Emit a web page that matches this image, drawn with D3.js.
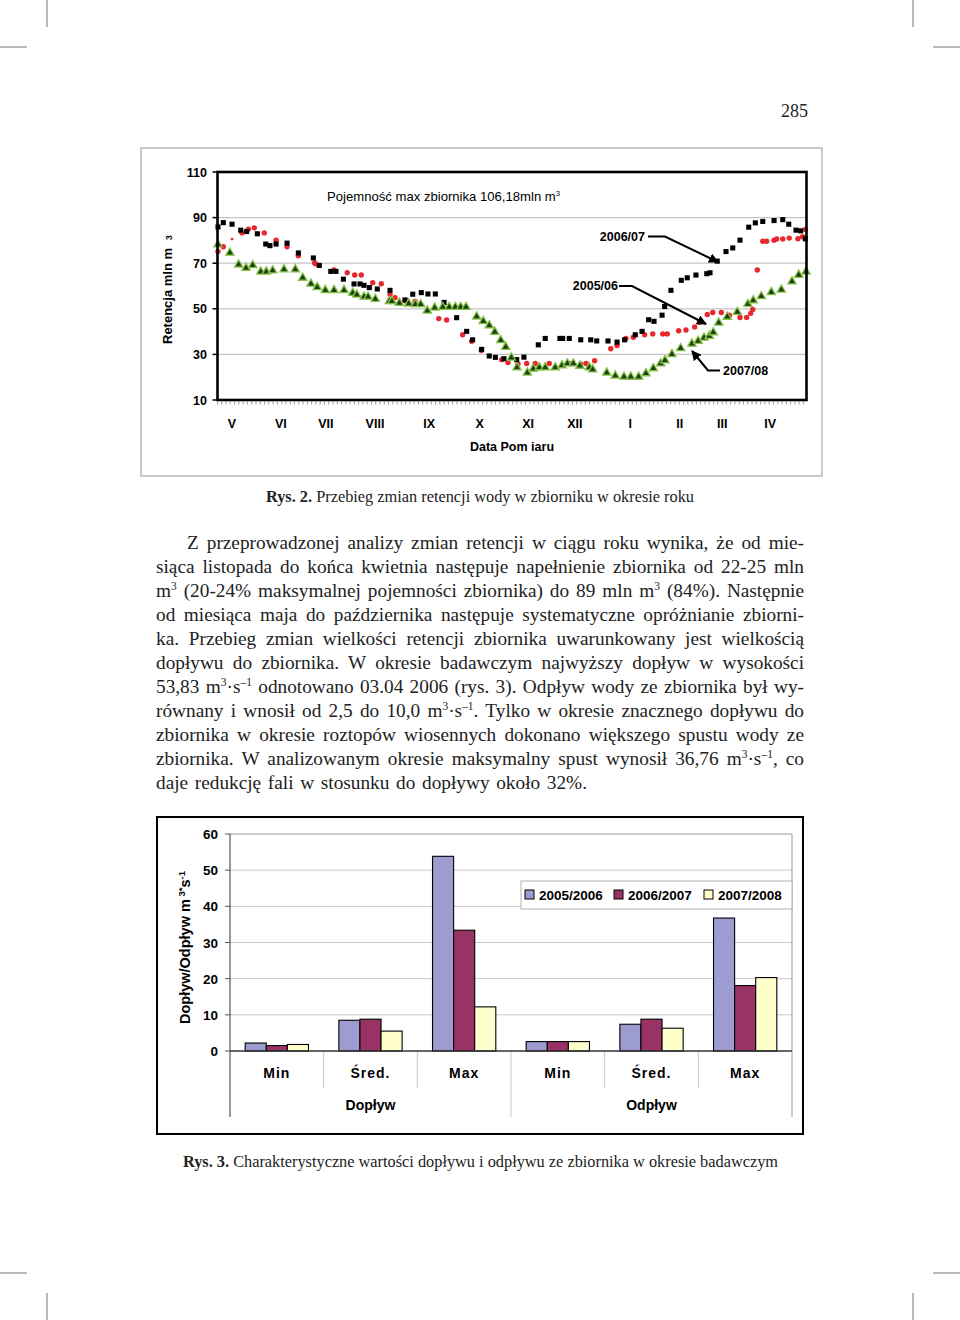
<!DOCTYPE html>
<html><head><meta charset="utf-8">
<script src="https://cdn.jsdelivr.net/npm/d3@7"></script>
<style>body{margin:0;background:#fff} svg{display:block}</style>
</head><body><svg id="c" width="960" height="1320"></svg>
<script>
// ---------- DATA: retention chart ----------
const months = ["V","VI","VII","VIII","IX","X","XI","XII","I","II","III","IV"];
const monthDays = [9.0, 39.3, 67.2, 97.6, 131.2, 162.5, 192.5, 221.5, 255.8, 286.4, 312.8, 342.5];
const retTicks = [10, 30, 50, 70, 90, 110];
const retGrid = [30, 50, 70, 90];

// 2005/06 (red circles) - days since 1 May, retention mln m3
const days0506 = [0.3,3.6,9.0,15.2,19.1,22.8,29.0,36.3,43.1,50.1,60.2,61.0,72.2,80.4,85.0,89.1,96.2,101.5,106.9,110.0,116.2,122.4,137.1,142.0,151.9,157.5,163.5,176.1,180.0,186.2,191.6,196.9,205.6,218.4,225.1,228.4,233.7,243.7,247.6,253.1,257.7,264.7,269.7,275.9,278.7,285.8,290.3,295.7,298.6,303.5,306.9,312.2,317.2,323.8,327.9,330.4,331.7,334.5,337.9,340.3,344.9,346.5,350.3,354.3,359.7,362.6,364.3];
const ret0506 = [75.1,77.2,80.6,83.3,84.9,85.5,83.3,80.1,77.2,73.3,70.1,69.7,67,65.8,64.8,64.8,61.4,61,56.4,54.9,53.5,53.2,45.7,45.1,38.6,35.8,31.7,27.7,26.4,25.8,26,26,26,26,25.7,26,27.2,32.5,33.9,37,37.5,38.6,39,39,39,40.4,40.7,42,44.1,47.5,48.4,48.4,47.2,46.2,46.2,48,49.7,67,79.6,79.6,80.1,80.6,80.6,81,80.7,81.6,84.8];

// 2006/07 (black squares)
const days0607 = [0.3,3.6,9.0,14.4,18.1,24.7,29.9,32.5,36.3,43.1,50.1,59.4,63.1,70.2,73.4,78.0,84.6,88.3,90.8,94.1,99.0,106.9,116.2,121.0,126.3,130.4,135.0,140.4,148.2,154.4,158.1,163.7,168.4,172.2,177.5,185.4,189.9,198.8,203.1,212.2,213.9,218.0,225.1,231.3,235.0,242.0,247.6,252.3,258.9,263.1,267.2,270.5,275.5,277.1,281.0,287.4,291.1,296.5,303.2,305.2,309.7,315.1,319.3,323.8,329.2,333.3,337.9,344.9,350.3,354.0,358.5,361.4,364.3];
const ret0607 = [85.9,87.8,87.1,84.5,83.9,82.9,78.4,77.7,78.4,78.8,74.5,72.3,69,66.4,66.4,63,60.9,60.9,60.3,59.3,58.7,58.1,53.9,56.4,57.1,56.5,56.5,52.8,46.1,40.1,36.4,32.2,29.3,28.7,28.1,27.7,28.8,34.2,37,37,37,37,36.4,36.4,35.9,35.9,35.4,36.4,38.6,40.1,45.2,44.5,47.2,51,58.1,62.5,63.6,64.8,65.4,65.8,70.9,75.1,76.7,80.1,85.8,87.7,88.3,88.7,89.1,87.1,84.5,84.2,80.7];

// 2007/08 (green triangles)
const days0708 = [0.3,7.7,13.1,17.7,21.8,26.8,30.2,34.2,41.2,48.2,52.8,57.9,61.8,66.8,72.2,78.4,83.8,86.3,90.8,93.3,97.8,106.5,108.1,112.7,118.5,122.6,125.9,130.0,134.6,139.6,143.6,147.4,150.7,154.0,160.6,164.7,168.4,171.8,175.5,178.6,182.1,185.6,192.0,195.7,199.4,203.1,209.3,213.5,216.8,220.5,224.6,230.4,232.5,241.2,246.5,251.9,256.1,261.0,265.5,270.1,274.6,277.3,281.6,287.0,294.0,297.8,301.5,304.8,307.2,310.6,315.9,322.1,328.7,332.0,337.0,343.2,349.4,356.0,360.2,364.7];
const ret0708 = [78.4,74.8,69.6,68.1,69.3,66.5,66.5,67,67.5,67.5,63.8,61.2,59.7,58.4,58.4,58.4,57.2,56.4,55.5,55.5,54.5,53.5,53.5,52.8,52.5,52.2,52.2,49.4,50.7,51,51,51,51,51,46.8,44.8,42.9,40.1,36.4,33.5,28.8,24.5,22.2,23.9,24.5,24.5,24.5,25.4,26.2,26.2,25.2,24.5,23.6,22.2,20.9,20.4,20.4,20.4,21.9,24.1,26.2,27.6,30.3,32.9,34.9,36.1,37.5,38.3,39.9,44.1,46.7,48.8,52.3,53.9,55.7,57.5,58.6,62.2,65.1,66.5];

// ---------- DATA: flow bar chart ----------
const barCategories = ["Min","Śred.","Max","Min","Śred.","Max"];
const barGroups = ["Dopływ","Odpływ"];
const barSeries = ["2005/2006","2006/2007","2007/2008"];
const flow0506 = [2.2, 8.5, 53.83, 2.6, 7.4, 36.76];
const flow0607 = [1.5, 8.8, 33.4, 2.6, 8.8, 18.1];
const flow0708 = [1.8, 5.5, 12.2, 2.6, 6.3, 20.3];
const flowTicks = [0,10,20,30,40,50,60];

// ---------- TEXT ----------
const para = [
 "Z przeprowadzonej analizy zmian retencji w ciągu roku wynika, że od mie-",
 "siąca listopada do końca kwietnia następuje napełnienie zbiornika od 22-25 mln",
 "m^3^ (20-24% maksymalnej pojemności zbiornika) do 89 mln m^3^ (84%). Następnie",
 "od miesiąca maja do października następuje systematyczne opróżnianie zbiorni-",
 "ka. Przebieg zmian wielkości retencji zbiornika uwarunkowany jest wielkością",
 "dopływu do zbiornika. W okresie badawczym najwyższy dopływ w wysokości",
 "53,83 m^3^·s^–1^ odnotowano 03.04 2006 (rys. 3). Odpływ wody ze zbiornika był wy-",
 "równany i wnosił od 2,5 do 10,0 m^3^·s^–1^. Tylko w okresie znacznego dopływu do",
 "zbiornika w okresie roztopów wiosennych dokonano większego spustu wody ze",
 "zbiornika. W analizowanym okresie maksymalny spust wynosił 36,76 m^3^·s^–1^, co",
 "daje redukcję fali w stosunku do dopływy około 32%."
];

const SANS = "'Liberation Sans', Arial, sans-serif";
const SERIF = "'Liberation Serif', 'Times New Roman', serif";
const svg = d3.select("#c");
svg.append("rect").attr("width",960).attr("height",1320).attr("fill","#fff");

// crop marks
const cm = svg.append("g").attr("stroke","#8a8a8a").attr("stroke-width",1.2);
[[47,0,47,27],[0,47,27,47],[913,0,913,27],[933,47,960,47],[47,1293,47,1320],[0,1273,27,1273],[913,1293,913,1320],[933,1273,960,1273]]
 .forEach(l=>cm.append("line").attr("x1",l[0]).attr("y1",l[1]).attr("x2",l[2]).attr("y2",l[3]));

svg.append("text").attr("x",808).attr("y",117).attr("text-anchor","end")
  .attr("font-family",SERIF).attr("font-size",18).attr("fill","#222").text("285");

// ================= TOP CHART =================
const X = d3.scaleLinear().domain([0,365]).range([217.5,806.5]);
const Y = d3.scaleLinear().domain([10,110]).range([400,172]);
const g1 = svg.append("g");
g1.append("rect").attr("x",141).attr("y",148).attr("width",681).attr("height",328)
  .attr("fill","#fff").attr("stroke","#a8a8a8").attr("stroke-width",1.2);

g1.selectAll("line.grid").data(retGrid).join("line").attr("class","grid")
  .attr("x1",X(0)).attr("x2",X(365)).attr("y1",d=>Y(d)).attr("y2",d=>Y(d))
  .attr("stroke","#c4c4c4").attr("stroke-width",1.2);

// minor ticks under axis
g1.selectAll("line.mt").data(d3.range(0,365,2.65)).join("line").attr("class","mt")
  .attr("x1",d=>X(d)).attr("x2",d=>X(d)).attr("y1",Y(10)+1.5).attr("y2",Y(10)+4.5)
  .attr("stroke","#9a9a9a").attr("stroke-width",1);

// y ticks
g1.selectAll("line.yt").data(retTicks).join("line").attr("class","yt")
  .attr("x1",X(0)-5).attr("x2",X(0)).attr("y1",d=>Y(d)).attr("y2",d=>Y(d))
  .attr("stroke","#000").attr("stroke-width",1.5);
g1.selectAll("text.yl").data(retTicks).join("text").attr("class","yl")
  .attr("x",207).attr("y",d=>Y(d)+4.5).attr("text-anchor","end")
  .attr("font-family",SANS).attr("font-weight","bold").attr("font-size",12.5).text(d=>d);

g1.selectAll("text.ml").data(months).join("text").attr("class","ml")
  .attr("x",(d,i)=>X(monthDays[i])).attr("y",428).attr("text-anchor","middle")
  .attr("font-family",SANS).attr("font-weight","bold").attr("font-size",12.5).text(d=>d);

g1.append("text").attr("x",512).attr("y",451).attr("text-anchor","middle")
  .attr("font-family",SANS).attr("font-weight","bold").attr("font-size",12.5)
  .attr("xml:space","preserve").text("Data Pom iaru");

const yt = g1.append("text").attr("transform","translate(172,344) rotate(-90)")
  .attr("font-family",SANS).attr("font-weight","bold").attr("font-size",13);
yt.append("tspan").text("Retencja mln m");
yt.append("tspan").attr("dx",8).attr("font-size",8.5).text("3");

const pj = g1.append("text").attr("x",327).attr("y",201)
  .attr("font-family",SANS).attr("font-size",13)
  .attr("textLength",233).attr("lengthAdjust","spacingAndGlyphs");
pj.append("tspan").text("Pojemność max zbiornika 106,18mln m");
pj.append("tspan").attr("dy",-5).attr("font-size",7.5).text("3");

// series
const sym = (type,size)=>d3.symbol().type(type).size(size)();
g1.selectAll("circle.s1").data(days0506).join("circle").attr("class","s1")
  .attr("cx",d=>X(d)).attr("cy",(d,i)=>Y(ret0506[i])).attr("r",(d,i)=>i===2?1.4:2.7).attr("fill","#e8282f");
g1.selectAll("path.s2").data(days0607).join("path").attr("class","s2")
  .attr("transform",(d,i)=>`translate(${X(d)},${Y(ret0607[i])})`)
  .attr("d",sym(d3.symbolSquare,26)).attr("fill","#000");
g1.selectAll("path.s3").data(days0708).join("path").attr("class","s3")
  .attr("transform",(d,i)=>`translate(${X(d)},${Y(ret0708[i])+0.5})`)
  .attr("d",sym(d3.symbolTriangle,30)).attr("fill","#1d3f17").attr("stroke","#86c246").attr("stroke-width",1.3);

// frame
g1.append("rect").attr("x",X(0)).attr("y",Y(110)).attr("width",X(365)-X(0)).attr("height",Y(10)-Y(110))
  .attr("fill","none").attr("stroke","#000").attr("stroke-width",2.6);

// annotations
const defs = svg.append("defs");
defs.append("marker").attr("id","ah").attr("viewBox","0 0 10 10").attr("refX",9).attr("refY",5)
  .attr("markerWidth",5).attr("markerHeight",5).attr("markerUnits","strokeWidth").attr("orient","auto")
  .append("path").attr("d","M0,0 L10,5 L0,10 z").attr("fill","#000");
const ann = [
  {t:"2006/07", tx:645, ty:241, anchor:"end", p:[[648,236.5],[665,236.5],[718,262]]},
  {t:"2005/06", tx:618, ty:290, anchor:"end", p:[[619,286],[632,286],[706,324]]},
  {t:"2007/08", tx:723, ty:375, anchor:"start", p:[[720,370.5],[708,370.5],[692,351]]}
];
ann.forEach(a=>{
  g1.append("text").attr("x",a.tx).attr("y",a.ty).attr("text-anchor",a.anchor)
    .attr("font-family",SANS).attr("font-weight","bold").attr("font-size",12.5).text(a.t);
  g1.append("path").attr("d",d3.line()(a.p)).attr("fill","none").attr("stroke","#000")
    .attr("stroke-width",2).attr("marker-end","url(#ah)");
});

// caption 2
const c2 = svg.append("text").attr("x",266).attr("y",502).attr("font-family",SERIF).attr("font-size",16)
  .attr("textLength",428).attr("lengthAdjust","spacingAndGlyphs").attr("fill","#222");
c2.append("tspan").attr("font-weight","bold").text("Rys. 2.");
c2.append("tspan").text(" Przebieg zmian retencji wody w zbiorniku w okresie roku");

// ================= PARAGRAPH =================
const pg = svg.append("g").attr("font-family",SERIF).attr("font-size",19.3).attr("fill","#222");
para.forEach((line,i)=>{
  const x0 = i===0 ? 187 : 156;
  const t = pg.append("text").attr("x",x0).attr("y",549+24*i).attr("xml:space","preserve");
  let pending = 0;
  line.split("^").forEach((seg,k)=>{
    if(!seg) return;
    if(k%2===1){
      t.append("tspan").attr("dy",-7+pending).attr("font-size",11.5).text(seg);
      pending = 7;
    } else {
      const ts = t.append("tspan").text(seg);
      if(pending){ ts.attr("dy",pending); pending = 0; }
    }
  });
  const nat = t.node().getComputedTextLength();
  const spaces = (line.match(/ /g)||[]).length;
  const target = (i < para.length-1) ? 804 - x0 : 587 - x0;
  if(spaces>0) t.attr("word-spacing",(target-nat)/spaces);
});

// ================= BOTTOM CHART =================
const g2 = svg.append("g");
g2.append("rect").attr("x",157).attr("y",817).attr("width",646).attr("height",317)
  .attr("fill","#fff").attr("stroke","#000").attr("stroke-width",2);
const B0 = d3.scaleBand().domain(d3.range(6)).range([230,792]);
const B1 = d3.scaleBand().domain(barSeries).range([0,B0.bandwidth()]).paddingOuter(0.72);
const BY = d3.scaleLinear().domain([0,60]).range([1051,834]);
const colors = {"2005/2006":"#9c9cd0","2006/2007":"#993366","2007/2008":"#ffffcc"};
const flows = {"2005/2006":flow0506,"2006/2007":flow0607,"2007/2008":flow0708};

g2.selectAll("line.bg").data(flowTicks.filter(d=>d>0&&d<60)).join("line").attr("class","bg")
  .attr("x1",230).attr("x2",792).attr("y1",d=>BY(d)).attr("y2",d=>BY(d))
  .attr("stroke","#c8c8c8").attr("stroke-width",1);
g2.append("line").attr("x1",230).attr("x2",792).attr("y1",BY(60)).attr("y2",BY(60)).attr("stroke","#9a9a9a");
g2.append("line").attr("x1",792).attr("x2",792).attr("y1",BY(60)).attr("y2",1117).attr("stroke","#9a9a9a");
// separators
[1,2,4,5].forEach(i=>g2.append("line").attr("x1",B0(i)).attr("x2",B0(i)).attr("y1",BY(0)).attr("y2",1088).attr("stroke","#c8c8c8"));
g2.append("line").attr("x1",B0(3)).attr("x2",B0(3)).attr("y1",BY(0)).attr("y2",1117).attr("stroke","#c8c8c8");

// bars
barSeries.forEach(s=>{
  g2.selectAll(null).data(flows[s]).join("rect")
    .attr("x",(d,i)=>B0(i)+B1(s)).attr("y",d=>BY(d)).attr("width",B1.bandwidth()).attr("height",d=>BY(0)-BY(d))
    .attr("fill",colors[s]).attr("stroke","#000").attr("stroke-width",1.1);
});

// axes
g2.append("line").attr("x1",230).attr("x2",230).attr("y1",BY(60)).attr("y2",1117).attr("stroke","#555").attr("stroke-width",1.2);
g2.append("line").attr("x1",230).attr("x2",792).attr("y1",BY(0)).attr("y2",BY(0)).attr("stroke","#333").attr("stroke-width",1.4);
g2.selectAll("line.yt2").data(flowTicks).join("line").attr("class","yt2")
  .attr("x1",225).attr("x2",230).attr("y1",d=>BY(d)).attr("y2",d=>BY(d)).attr("stroke","#555");
g2.selectAll("text.yl2").data(flowTicks).join("text").attr("class","yl2")
  .attr("x",218).attr("y",d=>BY(d)+5).attr("text-anchor","end")
  .attr("font-family",SANS).attr("font-weight","bold").attr("font-size",13.5).text(d=>d);

g2.selectAll("text.cl").data(barCategories).join("text").attr("class","cl")
  .attr("x",(d,i)=>B0(i)+B0.bandwidth()/2).attr("y",1078).attr("text-anchor","middle")
  .attr("font-family",SANS).attr("font-weight","bold").attr("font-size",14).attr("letter-spacing",1).text(d=>d);
g2.selectAll("text.gl").data(barGroups).join("text").attr("class","gl")
  .attr("x",(d,i)=>(B0(i*3)+B0(i*3+2)+B0.bandwidth())/2).attr("y",1110).attr("text-anchor","middle")
  .attr("font-family",SANS).attr("font-weight","bold").attr("font-size",14).text(d=>d);

const yt2 = g2.append("text").attr("transform","translate(190,1024) rotate(-90)")
  .attr("font-family",SANS).attr("font-weight","bold").attr("font-size",14.5);
yt2.append("tspan").text("Dopływ/Odpływ m");
yt2.append("tspan").attr("dy",-5).attr("font-size",9.5).text(" 3*");
yt2.append("tspan").attr("dy",5).text("s");
yt2.append("tspan").attr("dy",-5).attr("font-size",9.5).text("-1");

// legend
const lg = g2.append("g");
lg.append("rect").attr("x",521).attr("y",881).attr("width",271).attr("height",28)
  .attr("fill","#fff").attr("stroke","#b0b0b0");
const legX = [525, 614, 704];
barSeries.forEach((s,i)=>{
  lg.append("rect").attr("x",legX[i]).attr("y",890).attr("width",9).attr("height",9)
    .attr("fill",colors[s]).attr("stroke","#000");
  lg.append("text").attr("x",legX[i]+14).attr("y",899.5).attr("font-family",SANS)
    .attr("font-weight","bold").attr("font-size",13.5).text(s);
});

// caption 3
const c3 = svg.append("text").attr("x",183).attr("y",1167).attr("font-family",SERIF).attr("font-size",16)
  .attr("textLength",595).attr("lengthAdjust","spacingAndGlyphs").attr("fill","#222");
c3.append("tspan").attr("font-weight","bold").text("Rys. 3.");
c3.append("tspan").text(" Charakterystyczne wartości dopływu i odpływu ze zbiornika w okresie badawczym");
</script></body></html>
